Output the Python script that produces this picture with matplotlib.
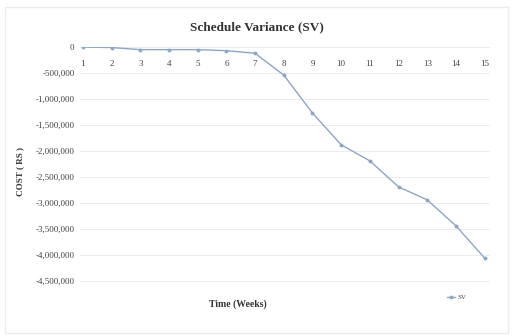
import matplotlib
matplotlib.use("Agg")
import matplotlib.pyplot as plt
from matplotlib.ticker import FuncFormatter
from matplotlib.patches import Rectangle

plt.rcParams['font.family'] = ['Liberation Serif', 'DejaVu Serif']

weeks = list(range(1, 16))
sv = [0, -10000, -50000, -50000, -50000, -70000, -120000, -540000,
      -1270000, -1880000, -2190000, -2690000, -2940000, -3440000, -4060000]
yticks = [0, -500000, -1000000, -1500000, -2000000, -2500000, -3000000,
          -3500000, -4000000, -4500000]

fig = plt.figure(figsize=(5.13, 3.36), dpi=100)
fig.patches.append(Rectangle((0.01, 0.01), 0.98, 0.97, transform=fig.transFigure,
                             fill=False, edgecolor='#ececec', lw=1.0))
ax = fig.add_axes([0.156, 0.125, 0.80, 0.735])

ax.plot(weeks, sv, color='#8ea6c6', lw=1.0, marker='o', ms=1.8,
        label='SV')
ax.set_xlim(0.9, 15.2)
ax.set_ylim(-4750000, 0)
ax.set_yticks(yticks)
ax.yaxis.set_major_formatter(FuncFormatter(lambda v, p: f"{int(v):,}"))
ax.set_xticks(weeks)
ax.grid(axis='y', color='#ececec', lw=0.7)
ax.set_axisbelow(True)
for s in ax.spines.values():
    s.set_visible(False)
ax.axhline(0, color='#d0d0d0', lw=0.7, zorder=0)
ax.tick_params(axis='both', length=0, labelsize=6.5, colors='#444444')
ax.xaxis.set_ticks_position('top')
ax.tick_params(axis='x', labeltop=True, labelbottom=False, pad=-9)
ax.tick_params(axis='y', pad=4)
for t in ax.get_xticklabels():
    t.set_verticalalignment('top')

fig.text(0.5, 0.92, 'Schedule Variance (SV)', ha='center', va='center',
         fontsize=9.5, fontweight='bold', color='#333333')
fig.text(0.04, 0.49, 'COST ( RS )', rotation=90, ha='center', va='center',
         fontsize=6.5, fontweight='bold', color='#333333')
fig.text(0.464, 0.095, 'Time (Weeks)', ha='center', va='center',
         fontsize=7, fontweight='bold', color='#333333')
leg = fig.legend(loc='center', bbox_to_anchor=(0.89, 0.115), frameon=False,
                 fontsize=5, handlelength=1.2, handletextpad=0.3,
                 labelcolor='#444444')

fig.savefig('out.png', dpi=100, facecolor='white')
